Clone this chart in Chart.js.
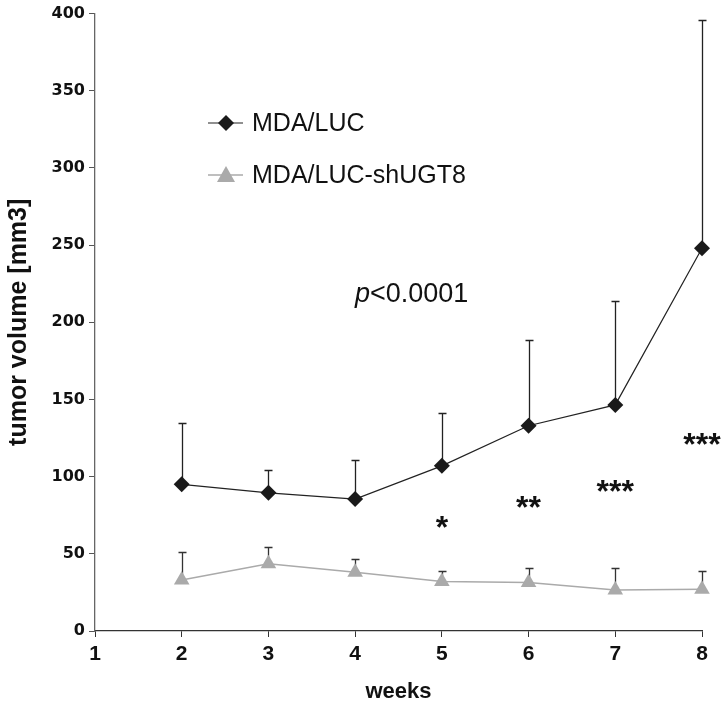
<!DOCTYPE html>
<html>
<head>
<meta charset="utf-8">
<script src="https://cdn.jsdelivr.net/npm/chart.js@4"></script>
<style>
  body { margin: 0; background: #fff; }
  #wrap { width: 725px; height: 709px; }
</style>
</head>
<body>
<div id="wrap"><canvas id="c" width="725" height="709"></canvas></div>
<script>
// data
const weeks = [2, 3, 4, 5, 6, 7, 8];
const lucMean = [95, 89.5, 85.5, 107, 133, 146.5, 248];
const lucErr = [39.5, 14.5, 25, 34, 55.5, 67.5, 148];
const shMean = [33, 43.5, 38, 32, 31.5, 26.5, 27];
const shErr = [18, 11, 8.5, 7, 9.5, 14.5, 12];
const seriesNames = ['MDA/LUC', 'MDA/LUC-shUGT8'];
const starWeeks = [5, 6, 7, 8];
const starLevels = [66, 79, 89, 120];
const starTexts = ['*', '**', '***', '***'];

const SANS = "'Liberation Sans', Arial, sans-serif";

// ── error bars (upper only), drawn under the markers ──
const errorBars = {
  id: 'errorBars',
  beforeDatasetsDraw(chart) {
    const ctx = chart.ctx, x = chart.scales.x, y = chart.scales.y;
    const sets = [[lucMean, lucErr, '#222'], [shMean, shErr, '#333']];
    ctx.save();
    ctx.lineWidth = 1.3;
    sets.forEach(([m, e, col]) => {
      ctx.strokeStyle = col;
      weeks.forEach((w, i) => {
        const px = Math.round(x.getPixelForValue(w)) + 0.5;
        const y0 = y.getPixelForValue(m[i]);
        const y1 = Math.round(y.getPixelForValue(m[i] + e[i])) + 0.5;
        ctx.beginPath();
        ctx.moveTo(px, y0); ctx.lineTo(px, y1);
        ctx.moveTo(px - 4, y1); ctx.lineTo(px + 4, y1);
        ctx.stroke();
      });
    });
    ctx.restore();
  }
};

// ── legend, p value and stars inside the plot ──
const extras = {
  id: 'extras',
  afterDraw(chart) {
    const ctx = chart.ctx, x = chart.scales.x, y = chart.scales.y;
    ctx.save();
    // legend
    const rows = [
      { y: 123, line: '#222', fill: '#1a1a1a', shape: 'diamond' },
      { y: 175, line: '#aaa', fill: '#aaaaaa', shape: 'triangle' }
    ];
    rows.forEach((r, i) => {
      ctx.strokeStyle = r.line;
      ctx.lineWidth = i ? 1.5 : 1.2;
      ctx.beginPath(); ctx.moveTo(208, r.y); ctx.lineTo(243, r.y); ctx.stroke();
      ctx.fillStyle = r.fill;
      ctx.beginPath();
      if (r.shape === 'diamond') {
        ctx.moveTo(226, r.y - 8); ctx.lineTo(234, r.y); ctx.lineTo(226, r.y + 8); ctx.lineTo(218, r.y);
      } else {
        ctx.moveTo(226, r.y - 9); ctx.lineTo(235, r.y + 7); ctx.lineTo(217, r.y + 7);
      }
      ctx.closePath(); ctx.fill();
      ctx.fillStyle = '#111';
      ctx.font = '25px ' + SANS;
      ctx.textBaseline = 'middle';
      ctx.textAlign = 'left';
      ctx.fillText(seriesNames[i], 252, r.y + 1);
    });

    // p value
    ctx.textBaseline = 'alphabetic';
    ctx.font = 'italic 27px ' + SANS;
    ctx.fillStyle = '#111';
    ctx.fillText('p', 355, 302);
    const pw = ctx.measureText('p').width;
    ctx.font = '27px ' + SANS;
    ctx.fillText('<0.0001', 355 + pw, 302);

    // significance stars
    ctx.font = 'bold 32px ' + SANS;
    ctx.textAlign = 'center';
    ctx.textBaseline = 'middle';
    starWeeks.forEach((w, i) => {
      ctx.fillText(starTexts[i], x.getPixelForValue(w), y.getPixelForValue(starLevels[i]));
    });
    ctx.restore();
  }
};

new Chart(document.getElementById('c'), {
  type: 'line',
  data: {
    datasets: [
      {
        label: seriesNames[0],
        data: weeks.map((w, i) => ({ x: w, y: lucMean[i] })),
        borderColor: '#222',
        borderWidth: 1.2,
        backgroundColor: '#1a1a1a',
        pointStyle: 'rectRot',
        pointRadius: 8,
        pointBorderWidth: 0,
        tension: 0,
        clip: false
      },
      {
        label: seriesNames[1],
        data: weeks.map((w, i) => ({ x: w, y: shMean[i] })),
        borderColor: '#aaa',
        borderWidth: 1.5,
        backgroundColor: '#aaaaaa',
        pointStyle: 'triangle',
        pointRadius: 9,
        pointBorderWidth: 0,
        tension: 0,
        clip: false
      }
    ]
  },
  options: {
    responsive: false,
    animation: false,
    layout: { padding: { top: 8, right: 23, left: 0, bottom: 0 } },
    plugins: { legend: { display: false }, tooltip: { enabled: false } },
    scales: {
      x: {
        type: 'linear',
        min: 1, max: 8,
        ticks: { stepSize: 1, color: '#111', font: { family: SANS, size: 21, weight: 'bold' }, padding: 5 },
        grid: { drawOnChartArea: false, tickLength: 6, color: '#333' },
        border: { color: '#333', width: 1.3 },
        title: { display: true, text: 'weeks', color: '#111', font: { family: SANS, size: 22, weight: 'bold' }, padding: { top: 12 } },
        afterFit(s) { s.height = 78; }
      },
      y: {
        min: 0, max: 400,
        ticks: { stepSize: 50, color: '#111', font: { family: "'DejaVu Sans', sans-serif", size: 16, weight: 'bold' }, padding: 4 },
        grid: { drawOnChartArea: false, tickLength: 6, color: '#555' },
        border: { color: '#666', width: 1.3 },
        title: { display: true, text: 'tumor volume [mm3]', color: '#111', font: { family: SANS, size: 25, weight: 'bold' }, padding: { bottom: 1 } },
        afterFit(s) { s.width = 95; }
      }
    }
  },
  plugins: [errorBars, extras]
});
</script>
</body>
</html>
